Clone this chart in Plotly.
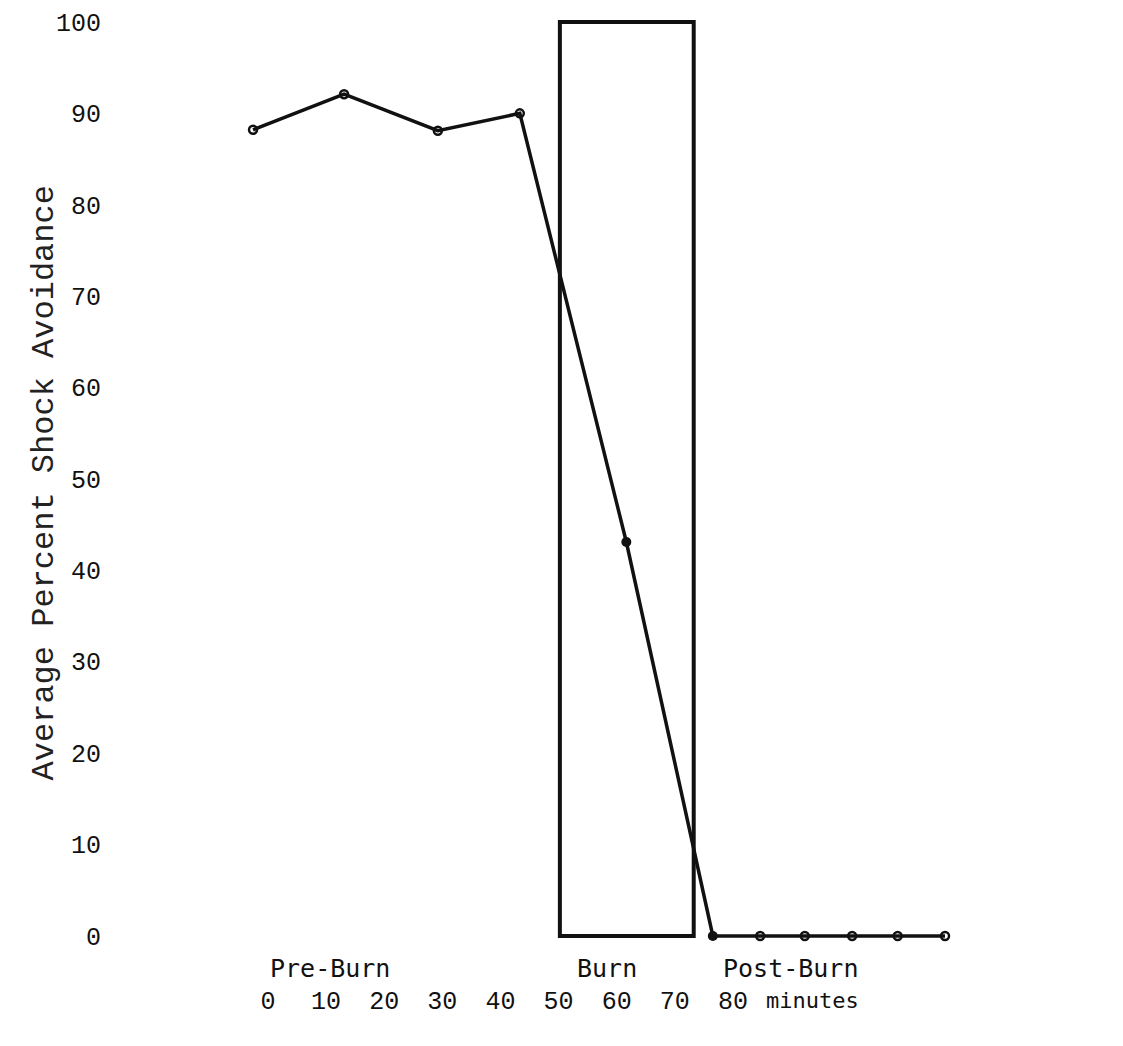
import plotly.graph_objects as go

# ---- data ----
pre_x = [5, 15, 25.3, 34.3]
pre_y = [88.2, 92.1, 88.1, 90.0]
burn_x = [46.0]
burn_y = [43.1]
post_x = [55.5, 60.7, 65.6, 70.8, 75.8, 81.0]
post_y = [0, 0, 0, 0, 0, 0]
burn_start = 38.7
burn_end = 53.4
burn_top = 100

y_ticks = [0, 10, 20, 30, 40, 50, 60, 70, 80, 90, 100]
x_tick_vals = [0, 10, 20, 30, 40, 50, 60, 70, 80]
x_tick_text = [str(v) for v in x_tick_vals]

phase_labels = ["Pre-Burn", "Burn", "Post-Burn"]
phase_pos = [13.45, 43.9, 64.0]

all_x = pre_x + burn_x + post_x
all_y = pre_y + burn_y + post_y

BLACK = "#111111"
NUM_FONT = dict(family="Liberation Mono", size=25, color=BLACK)
TXT_FONT = dict(family="DejaVu Sans Mono", size=25, color=BLACK)

fig = go.Figure()

fig.add_trace(go.Scatter(x=all_x, y=all_y, mode="lines",
                         line=dict(color=BLACK, width=3.5), showlegend=False,
                         hoverinfo="skip"))
fig.add_trace(go.Scatter(x=pre_x + post_x[1:], y=pre_y + post_y[1:], mode="markers",
                         marker=dict(symbol="circle-open", size=8, color=BLACK,
                                     line=dict(width=2.5, color=BLACK)),
                         showlegend=False))
fig.add_trace(go.Scatter(x=burn_x + post_x[:1], y=burn_y + post_y[:1], mode="markers",
                         marker=dict(symbol="circle", size=10, color=BLACK),
                         showlegend=False))
fig.add_trace(go.Scatter(x=[], y=[], xaxis="x2", showlegend=False))

fig.add_shape(type="rect", xref="x", yref="y", x0=burn_start, x1=burn_end,
              y0=0, y1=burn_top, line=dict(color=BLACK, width=4),
              fillcolor="rgba(0,0,0,0)", layer="below")

for lab, pos in zip(phase_labels, phase_pos):
    fig.add_annotation(x=pos, y=-3.6, xref="x", yref="y", text=lab,
                       showarrow=False, font=TXT_FONT)

fig.add_annotation(x=93.6, y=-0.0175, xref="x2", yref="paper", text="minutes",
                   showarrow=False,
                   font=dict(family="DejaVu Sans Mono", size=22, color=BLACK),
                   yanchor="middle")

fig.add_annotation(x=-0.0905, y=0.514, xref="paper", yref="paper",
                   text="Average Percent Shock Avoidance", textangle=-90,
                   showarrow=False, font=dict(family="Liberation Mono", size=32,
                                              color="#222222"))

fig.update_layout(
    width=1123, height=1046,
    margin=dict(l=102, r=71, t=2, b=71),
    paper_bgcolor="white", plot_bgcolor="white",
    xaxis=dict(range=[-10.71, 93.63], showgrid=False, zeroline=False,
               showline=False, showticklabels=False, ticks=""),
    xaxis2=dict(range=[-27.18, 136.26], overlaying="x", side="bottom",
                tickvals=x_tick_vals, ticktext=x_tick_text, tickfont=NUM_FONT,
                showgrid=False, zeroline=False, showline=False, ticks=""),
    yaxis=dict(range=[-5.15, 101.31], tickvals=y_ticks, tickfont=NUM_FONT,
               showgrid=False, zeroline=False, showline=False, ticks="",
               ticklabelstandoff=8),
)

fig.write_html("out.html")
